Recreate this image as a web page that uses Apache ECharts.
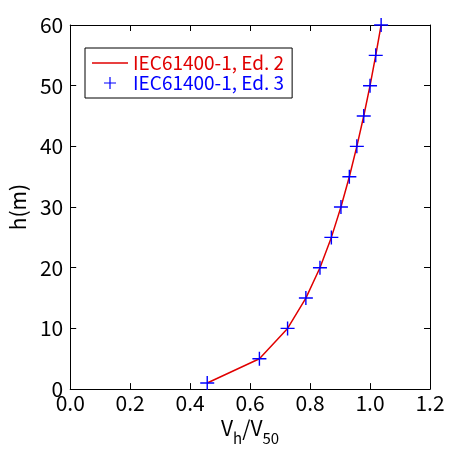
<!DOCTYPE html>
<html>
<head>
<meta charset="utf-8">
<script src="https://cdn.jsdelivr.net/npm/echarts@6/dist/echarts.min.js"></script>
<style>
  html, body { margin: 0; padding: 0; background: #fff; }
  #chart { width: 449px; height: 451px; }
</style>
</head>
<body>
<div id="chart"></div>
<script>
// Wind speed ratio profile V_h/V_50 against height h
const heights = [1, 5, 10, 15, 20, 25, 30, 35, 40, 45, 50, 55, 60];
const ratioEd2 = [0.457, 0.631, 0.725, 0.786, 0.833, 0.871, 0.903, 0.931, 0.956, 0.979, 1.000, 1.019, 1.037];
const ratioEd3 = [0.457, 0.631, 0.725, 0.786, 0.833, 0.871, 0.903, 0.931, 0.956, 0.979, 1.000, 1.019, 1.037];
const nameEd2 = 'IEC61400-1, Ed. 2';
const nameEd3 = 'IEC61400-1, Ed. 3';

const FONT = '"Noto Sans CJK JP", "Noto Sans", sans-serif';
const PLUS = 'path://M0,6.3H14V7.7H0Z M6.3,0H7.7V14H6.3Z';
const LINE_ICON = 'path://M0,0L0,0 M36,12L36,12 M0,5.2H36V6.8H0Z';

const pairs = (xs, ys) => xs.map((x, i) => [x, ys[i]]);

const axisLine = { show: true, onZero: false, lineStyle: { color: '#000', width: 1 } };
const axisTick = { show: true, inside: true, length: 6, lineStyle: { color: '#000' } };
const xBase = { type: 'value', min: 0, max: 1.2, interval: 0.2, splitLine: { show: false }, axisLine, axisTick };
const yBase = { type: 'value', min: 0, max: 60, interval: 10, splitLine: { show: false }, axisLine, axisTick };

const chart = echarts.init(document.getElementById('chart'), null, { renderer: 'canvas' });
chart.setOption({
  animation: false,
  backgroundColor: '#fff',
  grid: { left: 62, right: 19, top: 25, bottom: 58, show: false },
  xAxis: [
    Object.assign({}, xBase, {
      position: 'bottom',
      axisLabel: {
        fontFamily: FONT, fontSize: 21, color: '#000', margin: 3,
        formatter: v => v.toFixed(1)
      },
      name: '{v|V}{s|h}{v|/V}{s|50}',
      nameLocation: 'middle',
      nameGap: 25,
      nameTextStyle: {
        fontFamily: FONT, color: '#000', verticalAlign: 'top',
        rich: {
          v: { fontFamily: FONT, fontSize: 21, color: '#000', verticalAlign: 'top', lineHeight: 22 },
          s: { fontFamily: FONT, fontSize: 15, color: '#000', verticalAlign: 'top', lineHeight: 15, padding: [13, 0, 0, 0] }
        }
      }
    }),
    Object.assign({}, xBase, { position: 'top', axisLabel: { show: false } })
  ],
  yAxis: [
    Object.assign({}, yBase, {
      position: 'left',
      axisLabel: { fontFamily: FONT, fontSize: 21, color: '#000', margin: 7 },
      name: 'h(m)',
      nameLocation: 'middle',
      nameGap: 40,
      nameTextStyle: { fontFamily: FONT, fontSize: 21, color: '#000' }
    }),
    Object.assign({}, yBase, { position: 'right', axisLabel: { show: false } })
  ],
  legend: {
    orient: 'vertical',
    left: 85, top: 48,
    padding: [5, 8, 5, 7],
    itemGap: 0,
    itemWidth: 36, itemHeight: 12,
    backgroundColor: '#fff',
    borderColor: '#000', borderWidth: 1,
    textStyle: { fontFamily: FONT, fontSize: 19, lineHeight: 20 },
    selectedMode: false,
    data: [
      { name: nameEd2, icon: LINE_ICON, textStyle: { color: '#e00000' } },
      { name: nameEd3, textStyle: { color: '#0000ff' } }
    ]
  },
  series: [
    {
      name: nameEd2,
      type: 'line',
      data: pairs(ratioEd2, heights),
      symbol: 'none',
      itemStyle: { color: '#e00000' },
      lineStyle: { color: '#e00000', width: 1.5 },
      z: 2
    },
    {
      name: nameEd3,
      type: 'scatter',
      data: pairs(ratioEd3, heights),
      symbol: PLUS,
      symbolSize: 14,
      itemStyle: { color: '#0000ff', opacity: 1 },
      z: 3
    }
  ]
});
</script>
</body>
</html>
